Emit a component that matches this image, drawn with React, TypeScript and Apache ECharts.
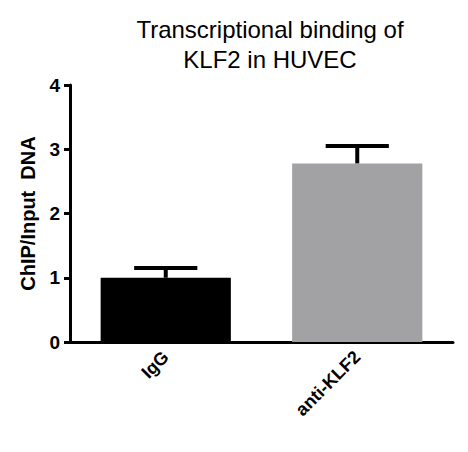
import { useEffect, useRef } from 'react';
import * as echarts from 'echarts';

// values
const categories = ['IgG', 'anti-KLF2'];
const means = [1.0, 2.78];
const sems = [0.15, 0.27];
const barColors = ['#000000', '#a2a2a4'];
const yTicks = { min: 0, max: 4, interval: 1 };

const FONT = '"Liberation Sans", Arial, sans-serif';

const App = () => {
  const chartDom = useRef<HTMLDivElement>(null);

  useEffect(() => {
    const chart = echarts.init(chartDom.current, null, { renderer: 'svg' });

    const option: any = {
      animation: false,
      title: {
        text: 'Transcriptional binding of\nKLF2 in HUVEC',
        left: 265,
        textAlign: 'center',
        top: 9,
        textStyle: {
          fontFamily: FONT,
          fontSize: 24,
          fontWeight: 'normal',
          color: '#000',
          lineHeight: 30,
        },
      },
      grid: { left: 70, right: 15, top: 85, bottom: 110 },
      xAxis: {
        type: 'category',
        data: categories,
        axisLine: { lineStyle: { color: '#000', width: 3 } },
        axisTick: { alignWithLabel: true, length: 6, lineStyle: { width: 3, color: '#000' } },
        axisLabel: {
          rotate: 45,
          margin: 12,
          color: '#000',
          fontFamily: FONT,
          fontSize: 18,
          fontWeight: 'bold',
        },
      },
      yAxis: {
        type: 'value',
        min: yTicks.min,
        max: yTicks.max,
        interval: yTicks.interval,
        name: 'ChIP/Input  DNA',
        nameLocation: 'middle',
        nameGap: 32,
        nameTextStyle: { fontFamily: FONT, fontSize: 20, fontWeight: 'bold', color: '#000' },
        splitLine: { show: false },
        axisLine: { show: true, lineStyle: { color: '#000', width: 3 } },
        axisTick: { show: true, length: 6, lineStyle: { width: 3, color: '#000' } },
        axisLabel: {
          margin: 10,
          color: '#000',
          fontFamily: FONT,
          fontSize: 19,
          fontWeight: 'bold',
        },
      },
      series: [
        {
          type: 'bar',
          barWidth: '68%',
          data: means.map((v, i) => ({ value: v, itemStyle: { color: barColors[i] } })),
          z: 2,
        },
        {
          type: 'custom',
          z: 3,
          data: means.map((v, i) => [i, v, sems[i]]),
          renderItem: (params: any, api: any) => {
            const idx = api.value(0);
            const base = api.coord([idx, api.value(1)]);
            const top = api.coord([idx, api.value(1) + api.value(2)]);
            const half = api.size([1, 0])[0] * 0.165;
            const style = { stroke: '#000', lineWidth: 4 };
            return {
              type: 'group',
              children: [
                { type: 'line', shape: { x1: base[0], y1: base[1], x2: top[0], y2: top[1] }, style },
                { type: 'line', shape: { x1: top[0] - half, y1: top[1], x2: top[0] + half, y2: top[1] }, style },
              ],
            };
          },
        },
      ],
    };

    chart.setOption(option);
    return () => {
      chart.dispose();
    };
  }, []);

  return (
    <div
      ref={chartDom}
      style={{ position: 'fixed', left: 0, top: 0, width: 468, height: 452, background: '#fff' }}
    />
  );
};

export default App;
